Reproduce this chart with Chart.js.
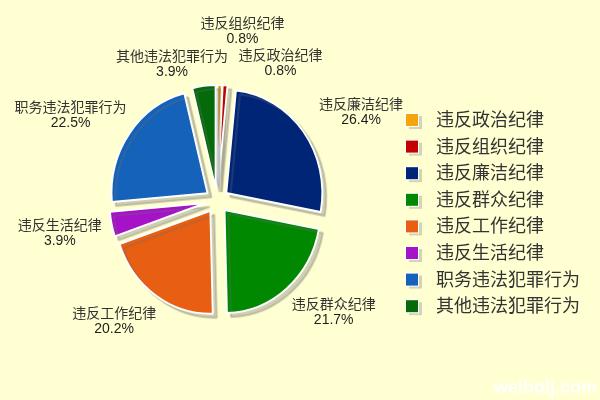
<!DOCTYPE html>
<html>
<head>
<meta charset="utf-8">
<script src="https://cdn.jsdelivr.net/npm/chart.js@4"></script>
<style>
  html, body { margin: 0; padding: 0; background: #ffffd2; }
  #wrap { width: 600px; height: 400px; }
</style>
</head>
<body>
<div id="wrap"><canvas id="myChart" width="600" height="400"></canvas></div>
<script>
const categories = ["违反政治纪律", "违反组织纪律", "违反廉洁纪律", "违反群众纪律", "违反工作纪律", "违反生活纪律", "职务违法犯罪行为", "其他违法犯罪行为"];
const shares = [0.8, 0.8, 26.4, 21.7, 20.2, 3.9, 22.5, 3.9];
const percentLabels = ["0.8%", "0.8%", "26.4%", "21.7%", "20.2%", "3.9%", "22.5%", "3.9%"];
const sliceColors = ["#f2a60c", "#c40000", "#002577", "#008800", "#e85e12", "#a612c8", "#1562ba", "#046a0a"];

const canvas = document.querySelector("#myChart");
const labelFont = '14px "Liberation Sans", "Noto Sans CJK SC", sans-serif';
const legendFont = '18px "Liberation Sans", "Noto Sans CJK SC", sans-serif';

// small moves for the crowded labels at the top and the far left one
const labelNudge = { 0: [59, 10], 1: [12, -23], 5: [19, 2], 7: [-23, 10] };
const explode = 12.5;
const squeezeX = 0.932; // the original pie is a bit narrower than tall

const explodePlugin = {
  id: "explode",
  afterDatasetUpdate(chart, args) {
    args.meta.data.forEach((arc) => {
      const mid = (arc.startAngle + arc.endAngle) / 2;
      arc.x += Math.cos(mid) * explode;
      arc.y += Math.sin(mid) * explode;
    });
  },
};

const shadowPlugin = {
  id: "shadow",
  beforeDatasetsDraw(chart) {
    const ctx = chart.ctx;
    const area = chart.chartArea;
    const cx = (area.left + area.right) / 2;
    const cy = (area.top + area.bottom) / 2;
    ctx.save();
    ctx.translate(cx, cy);
    ctx.scale(squeezeX, 1);
    ctx.translate(-cx, -cy);
    ctx.shadowColor = "rgba(110,110,110,0.33)";
    ctx.shadowOffsetX = 4;
    ctx.shadowOffsetY = 4;
    ctx.shadowBlur = 1;
  },
  afterDatasetsDraw(chart) {
    chart.ctx.restore();
  },
};

const labelPlugin = {
  id: "outLabels",
  afterDraw(chart) {
    const ctx = chart.ctx;
    const meta = chart.getDatasetMeta(0);
    const area = chart.chartArea;
    const cx = (area.left + area.right) / 2;
    const cy = (area.top + area.bottom) / 2;
    const r = meta.data[0].outerRadius;
    const rx = r + 77;
    const ry = r + 44;

    ctx.save();
    ctx.textAlign = "center";
    ctx.textBaseline = "middle";
    ctx.font = labelFont;
    meta.data.forEach((arc, i) => {
      const mid = (arc.startAngle + arc.endAngle) / 2;
      const nudge = labelNudge[i] || [0, 0];
      const x = cx + Math.cos(mid) * rx + nudge[0];
      const y = cy + Math.sin(mid) * ry + nudge[1];
      ctx.fillStyle = "#333333";
      ctx.fillText(chart.data.labels[i], x, y - 7);
      ctx.fillStyle = "#1e1e1e";
      ctx.fillText(percentLabels[i], x, y + 8);
    });

    // legend on the right
    ctx.font = legendFont;
    ctx.textAlign = "left";
    const lx = 406;
    const ly = 120;
    const step = 26.6;
    chart.data.labels.forEach((label, i) => {
      const y = ly + i * step;
      ctx.fillStyle = "rgba(120,120,120,0.33)";
      ctx.fillRect(lx + 3, y - 4, 13, 13);
      ctx.fillStyle = "#ffffff";
      ctx.fillRect(lx - 1, y - 7, 14, 14);
      ctx.fillStyle = sliceColors[i];
      ctx.fillRect(lx, y - 6, 12, 12);
      ctx.fillStyle = "#333333";
      ctx.fillText(label, 436, y + 1);
    });

    // watermark
    ctx.font = 'bold 18px "Liberation Sans", sans-serif';
    ctx.textAlign = "right";
    ctx.textBaseline = "alphabetic";
    ctx.fillStyle = "rgba(255,255,255,0.95)";
    ctx.fillText("weibolj.com", 597, 393);
    ctx.restore();
  },
};

const config = {
  type: "pie",
  data: {
    labels: categories,
    datasets: [
      {
        data: shares,
        backgroundColor: sliceColors,
        borderColor: "#ffffff",
        borderWidth: 2,
      },
    ],
  },
  options: {
    responsive: false,
    devicePixelRatio: 1,
    animation: false,
    events: [],
    radius: 103,
    layout: { padding: { left: 0, right: 166, top: 1, bottom: 0 } },
    plugins: {
      legend: { display: false },
      tooltip: { enabled: false },
    },
  },
  plugins: [explodePlugin, shadowPlugin, labelPlugin],
};

const myChart = new Chart(canvas, config);
</script>
</body>
</html>
